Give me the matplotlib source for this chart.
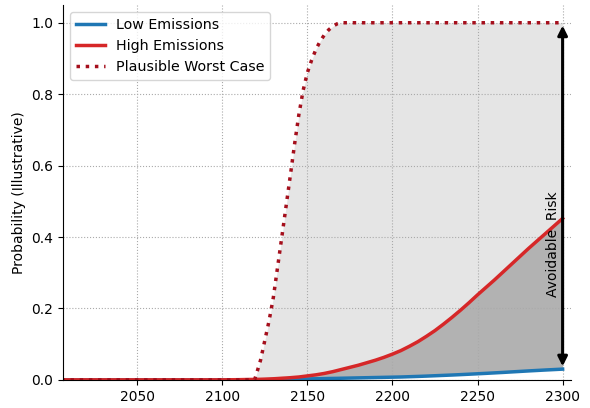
import matplotlib
matplotlib.use('Agg')
import matplotlib.pyplot as plt
import numpy as np

years = [2000, 2050, 2100, 2110, 2115, 2119,
         2120, 2122.5, 2125, 2127.5, 2130, 2132.5, 2135, 2137.5, 2140, 2142.5,
         2145, 2147.5, 2150, 2152.5, 2155, 2157.5, 2160, 2162.5, 2165, 2167.5, 2170,
         2175, 2180, 2185, 2190, 2195, 2200, 2205, 2210, 2215, 2220, 2225,
         2230, 2235, 2240, 2245, 2250, 2255, 2260, 2265, 2270, 2275,
         2280, 2285, 2290, 2295, 2300]

low = [0.0, 0.0, 0.0, 0.0, 0.0, 0.0,
       0.0, 0.0, 0.0, 0.0003, 0.0005, 0.0008, 0.001, 0.0012, 0.0015, 0.0018,
       0.002, 0.0022, 0.0025, 0.0028, 0.003, 0.0032, 0.0035, 0.0038, 0.004, 0.0042, 0.0045,
       0.005, 0.0055, 0.006, 0.0065, 0.007, 0.0075, 0.008, 0.0088, 0.0096, 0.0105, 0.0115,
       0.0125, 0.0135, 0.0146, 0.0158, 0.017, 0.0182, 0.0195, 0.0208, 0.0222, 0.0236,
       0.025, 0.0263, 0.0276, 0.0288, 0.030]

high = [0.0, 0.0, 0.0, 0.0005, 0.001, 0.0012,
        0.0013, 0.0016, 0.002, 0.0025, 0.003, 0.0037, 0.0045, 0.0052, 0.006, 0.007,
        0.008, 0.0095, 0.011, 0.0125, 0.014, 0.016, 0.018, 0.0205, 0.023, 0.026, 0.029,
        0.035, 0.041, 0.048, 0.055, 0.063, 0.072, 0.082, 0.094, 0.107, 0.122, 0.138,
        0.156, 0.175, 0.195, 0.216, 0.238, 0.259, 0.28, 0.302, 0.324, 0.346,
        0.368, 0.389, 0.41, 0.431, 0.452]

worst = [0.0, 0.0, 0.0, 0.0, 0.0, 0.0,
         0.015, 0.055, 0.11, 0.165, 0.23, 0.315, 0.4, 0.486, 0.572, 0.66,
         0.742, 0.81, 0.86, 0.895, 0.925, 0.948, 0.966, 0.98, 0.99, 0.997, 1.0,
         1.0, 1.0, 1.0, 1.0, 1.0, 1.0, 1.0, 1.0, 1.0, 1.0, 1.0,
         1.0, 1.0, 1.0, 1.0, 1.0, 1.0, 1.0, 1.0, 1.0, 1.0,
         1.0, 1.0, 1.0, 1.0, 1.0]

yrs = np.array(years)
lo = np.array(low)
hi = np.array(high)
wc = np.array(worst)

fig, ax = plt.subplots(figsize=(5.9, 4.08), dpi=100)
fig.subplots_adjust(left=0.107, right=0.968, top=0.988, bottom=0.069)

ax.fill_between(yrs, hi, wc, color='gray', alpha=0.2, lw=0)
ax.fill_between(yrs, lo, hi, color='gray', alpha=0.6, lw=0)

ax.plot(yrs, lo, color='#1f77b4', lw=2.5, label='Low Emissions')
ax.plot(yrs, hi, color='#d62728', lw=2.5, label='High Emissions')
ax.plot(yrs, wc, ':', color='#a50f1c', lw=2.5, label='Plausible Worst Case')

# avoidable risk arrow at the final year
ax.annotate('', xy=(years[-1], worst[-1]), xytext=(years[-1], low[-1]),
            arrowprops=dict(arrowstyle='<|-|>', color='black', lw=2.2,
                            mutation_scale=14))
ax.text(years[-1] - 1.5, 0.38, 'Avoidable  Risk', rotation=90,
        ha='right', va='center', fontsize=10)

ax.set_xlim(2006.5, 2305)
ax.set_ylim(0, 1.05)
ax.set_xticks([2050, 2100, 2150, 2200, 2250, 2300])
ax.set_yticks([0.0, 0.2, 0.4, 0.6, 0.8, 1.0])
ax.set_ylabel('Probability (Illustrative)', fontsize=10)
ax.tick_params(labelsize=10)
ax.grid(True, ls=':', color='#aaaaaa', lw=0.8)
ax.spines['top'].set_visible(False)
ax.spines['right'].set_visible(False)
ax.legend(loc='upper left', fontsize=10.3)

fig.savefig('out.png', dpi=100)
